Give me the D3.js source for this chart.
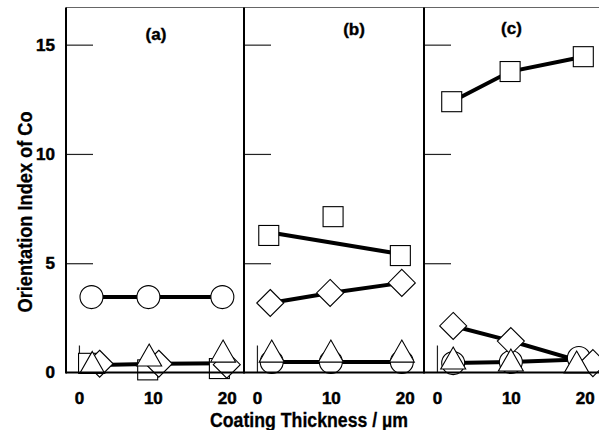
<!DOCTYPE html>
<html>
<head>
<meta charset="utf-8">
<script src="https://cdn.jsdelivr.net/npm/d3@7"></script>
<style>
  html, body { margin: 0; padding: 0; background: #fff; }
  svg { display: block; }
  text { font-family: "Liberation Sans", Arial, sans-serif; font-weight: bold; fill: #000; }
</style>
</head>
<body>
<svg id="chart" width="599" height="430"></svg>
<script>
// ---------- data ----------
const panelNames = ["(a)", "(b)", "(c)"];
const xTicks = [0, 10, 20];
const xTickMarks = [0];
const yTicks = [0, 5, 10, 15];
const yInnerTicks = [5, 10, 15];
const xTitle = "Coating Thickness / µm";
const yTitle = "Orientation Index of Co";

// marker values, one inner array per panel (a), (b), (c)
const squareX   = [[1.3, 9.3, 19.0], [1.6, 10.3, 19.4], [2.0, 9.9, 19.8]];
const squareY   = [[0.42, 0.12, 0.18], [6.27, 7.13, 5.35], [12.39, 13.77, 14.45]];
const circleX   = [[1.7, 9.4, 19.4], [2.0, 10.0, 19.6], [2.2, 10.0, 19.2]];
const circleY   = [[3.45, 3.45, 3.45], [0.48, 0.48, 0.48], [0.43, 0.48, 0.66]];
const diamondX  = [[2.8, 10.8, 20.0], [1.8, 9.9, 19.6], [2.2, 10.0, 21.1]];
const diamondY  = [[0.40, 0.40, 0.36], [3.18, 3.64, 4.10], [2.13, 1.44, 0.43]];
const triangleX = [[1.8, 9.5, 19.5], [2.0, 10.0, 19.6], [2.2, 10.0, 18.9]];
const triangleY = [[0.46, 0.80, 0.98], [0.98, 0.98, 0.98], [0.66, 0.57, 0.48]];

// trend lines drawn under the markers
const squareLineX  = [[], [1.6, 19.4], [2.0, 9.9, 19.8]];
const squareLineY  = [[], [6.42, 5.42], [12.39, 13.77, 14.45]];
const circleLineX  = [[1.7, 9.4, 19.4], [2.0, 10.0, 19.6], [2.2, 10.0, 19.2]];
const circleLineY  = [[3.45, 3.45, 3.45], [0.48, 0.48, 0.48], [0.43, 0.48, 0.60]];
const diamondLineX = [[2.8, 10.8, 20.0], [1.8, 9.9, 19.6], [2.2, 10.0, 21.1]];
const diamondLineY = [[0.34, 0.40, 0.42], [3.18, 3.64, 4.10], [2.13, 1.44, 0.35]];

// ---------- layout ----------
const panelLeft = [66, 244, 424];
const panelW = 180;
const plotTop = 7.5, plotBottom = 372.5;
const labelDx = [90, 110, 87.5];
const labelY = [39.5, 34.5, 34];

const svg = d3.select("#chart");
const x = d3.scaleLinear().domain([-1.75, 22.6]).range([0, panelW]);
const y = d3.scaleLinear().domain([0, 16.7]).range([plotBottom, plotTop]);
const line = d3.line().x(d => x(d[0])).y(d => y(d[1]));
const zip = (xs, ys) => xs.map((v, i) => [v, ys[i]]);

function styleTick(sel) {
  sel.style("font-size", "17px").style("font-family", "Liberation Sans, Arial, sans-serif")
    .style("font-weight", "bold").attr("fill", "#000")
    .attr("stroke", "#000").attr("stroke-width", 0.5);
}

// top border
svg.append("line").attr("x1", panelLeft[0]).attr("x2", 599)
  .attr("y1", plotTop).attr("y2", plotTop)
  .attr("stroke", "#666").attr("stroke-width", 1);

panelNames.forEach((name, p) => {
  const g = svg.append("g").attr("transform", `translate(${panelLeft[p]},0)`);

  // inner y ticks
  const ya = g.append("g").call(d3.axisRight(y).tickValues(yInnerTicks).tickSize(27).tickFormat(""));
  ya.select(".domain").remove();
  ya.selectAll(".tick line").attr("stroke", "#222").attr("stroke-width", 1.2);

  // inner x tick at 0 + labels
  const xa = g.append("g").attr("transform", `translate(0,${plotBottom})`)
    .call(d3.axisBottom(x).tickValues(xTickMarks).tickSize(-27).tickFormat(""));
  xa.select(".domain").remove();
  xa.selectAll(".tick line").attr("stroke", "#222").attr("stroke-width", 1.2);

  const xl = g.append("g").attr("transform", `translate(0,${plotBottom})`)
    .call(d3.axisBottom(x).tickValues(xTicks).tickSize(0).tickPadding(0).tickFormat(d3.format("d")));
  xl.select(".domain").remove();
  xl.selectAll(".tick text").attr("dy", null).attr("y", 31).call(styleTick);

  // panel label
  g.append("text").attr("x", labelDx[p]).attr("y", labelY[p])
    .attr("text-anchor", "middle").attr("stroke", "#000").attr("stroke-width", 0.4)
    .style("font-size", "17px").text(name);

  // lines
  const lines = [
    zip(squareLineX[p], squareLineY[p]),
    zip(circleLineX[p], circleLineY[p]),
    zip(diamondLineX[p], diamondLineY[p])
  ].filter(l => l.length > 1);
  g.selectAll("path.trend").data(lines).join("path").attr("class", "trend")
    .attr("d", line).attr("fill", "none").attr("stroke", "#000").attr("stroke-width", 4);

  const mk = g.append("g").attr("fill", "#fff").attr("stroke", "#000").attr("stroke-width", 1.1);
  // squares
  mk.selectAll("rect").data(zip(squareX[p], squareY[p])).join("rect")
    .attr("x", d => x(d[0]) - 10).attr("y", d => y(d[1]) - 10)
    .attr("width", 20).attr("height", 20);
  // circles
  mk.selectAll("circle").data(zip(circleX[p], circleY[p])).join("circle")
    .attr("cx", d => x(d[0])).attr("cy", d => y(d[1])).attr("r", 11.5);
  // diamonds
  mk.selectAll("path.dia").data(zip(diamondX[p], diamondY[p])).join("path").attr("class", "dia")
    .attr("d", d => { const cx = x(d[0]), cy = y(d[1]), r = 13.5;
      return `M${cx},${cy - r}L${cx + r},${cy}L${cx},${cy + r}L${cx - r},${cy}Z`; });
  // triangles
  mk.selectAll("path.tri").data(zip(triangleX[p], triangleY[p])).join("path").attr("class", "tri")
    .attr("d", d => { const cx = x(d[0]), cy = y(d[1]);
      return `M${cx},${cy - 11}L${cx + 12.5},${cy + 11}L${cx - 12.5},${cy + 11}Z`; });
});

// frame lines
svg.append("line").attr("x1", panelLeft[0]).attr("x2", 599)
  .attr("y1", plotBottom).attr("y2", plotBottom).attr("stroke", "#000").attr("stroke-width", 2);
panelLeft.forEach(px => {
  svg.append("line").attr("x1", px).attr("x2", px)
    .attr("y1", plotTop).attr("y2", plotBottom + 1).attr("stroke", "#000").attr("stroke-width", 2);
});

// y labels
const yl = svg.append("g").attr("transform", `translate(${panelLeft[0]},0)`)
  .call(d3.axisLeft(y).tickValues(yTicks).tickSize(0).tickPadding(11).tickFormat(d3.format("d")));
yl.select(".domain").remove();
yl.selectAll(".tick text").call(styleTick);

// axis titles
svg.append("text").attr("x", 309).attr("y", 427).attr("text-anchor", "middle")
  .attr("textLength", 198).attr("lengthAdjust", "spacingAndGlyphs")
  .attr("stroke", "#000").attr("stroke-width", 0.3)
  .style("font-size", "20px").text(xTitle);
svg.append("text").attr("transform", "translate(32,212) rotate(-90)").attr("text-anchor", "middle")
  .attr("textLength", 201).attr("lengthAdjust", "spacingAndGlyphs")
  .attr("stroke", "#000").attr("stroke-width", 0.3)
  .style("font-size", "20px").text(yTitle);
</script>
</body>
</html>
